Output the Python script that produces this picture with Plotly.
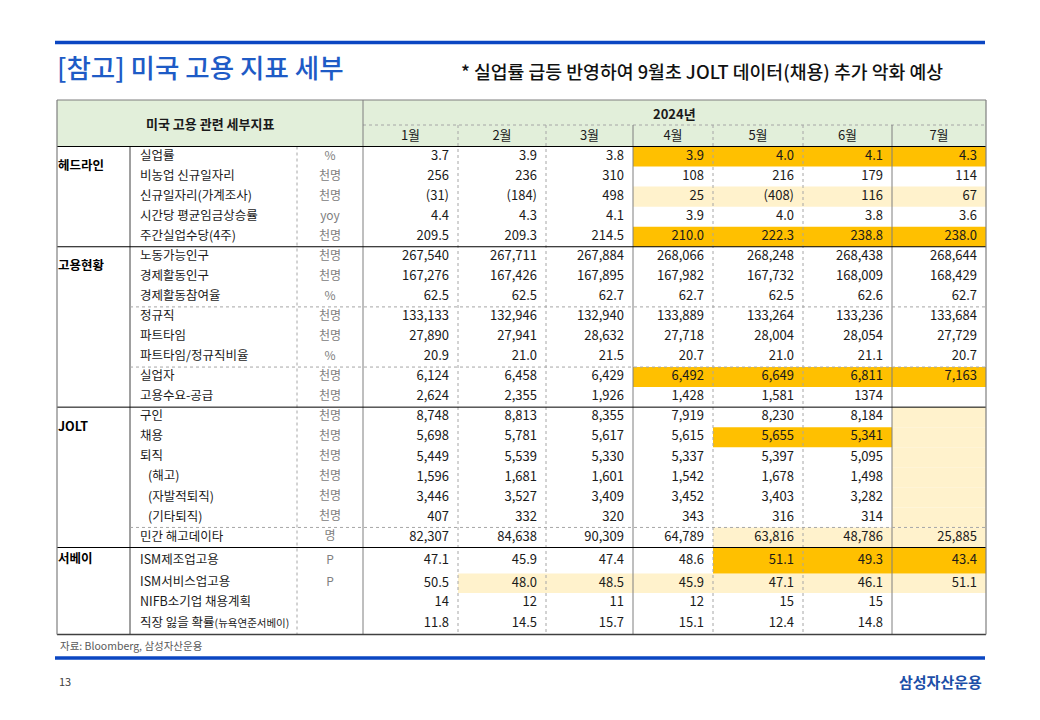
import plotly.graph_objects as go

# ---- data ----
title = "[참고] 미국 고용 지표 세부"
subtitle = "* 실업률 급등 반영하여 9월초 JOLT 데이터(채용) 추가 악화 예상"
header_left = "미국 고용 관련 세부지표"
year_label = "2024년"
months = ["1월", "2월", "3월", "4월", "5월", "6월", "7월"]

sections = ["헤드라인", "고용현황", "JOLT", "서베이"]
section_sizes = [5, 8, 7, 4]

indicators = [
    "실업률", "비농업 신규일자리", "신규일자리(가계조사)", "시간당 평균임금상승률", "주간실업수당(4주)",
    "노동가능인구", "경제활동인구", "경제활동참여율", "정규직", "파트타임", "파트타임/정규직비율",
    "실업자", "고용수요-공급",
    "구인", "채용", "퇴직", "(해고)", "(자발적퇴직)", "(기타퇴직)", "민간 해고데이타",
    "ISM제조업고용", "ISM서비스업고용", "NIFB소기업 채용계획",
    "직장 잃을 확률<span style='font-size:10.5px'>(뉴욕연준서베이)</span>",
]
units = [
    "%", "천명", "천명", "yoy", "천명",
    "천명", "천명", "%", "천명", "천명", "%", "천명", "천명",
    "천명", "천명", "천명", "천명", "천명", "천명", "명",
    "P", "P", "", "",
]

jan = ["3.7", "256", "(31)", "4.4", "209.5", "267,540", "167,276", "62.5", "133,133", "27,890", "20.9",
       "6,124", "2,624", "8,748", "5,698", "5,449", "1,596", "3,446", "407", "82,307",
       "47.1", "50.5", "14", "11.8"]
feb = ["3.9", "236", "(184)", "4.3", "209.3", "267,711", "167,426", "62.5", "132,946", "27,941", "21.0",
       "6,458", "2,355", "8,813", "5,781", "5,539", "1,681", "3,527", "332", "84,638",
       "45.9", "48.0", "12", "14.5"]
mar = ["3.8", "310", "498", "4.1", "214.5", "267,884", "167,895", "62.7", "132,940", "28,632", "21.5",
       "6,429", "1,926", "8,355", "5,617", "5,330", "1,601", "3,409", "320", "90,309",
       "47.4", "48.5", "11", "15.7"]
apr = ["3.9", "108", "25", "3.9", "210.0", "268,066", "167,982", "62.7", "133,889", "27,718", "20.7",
       "6,492", "1,428", "7,919", "5,615", "5,337", "1,542", "3,452", "343", "64,789",
       "48.6", "45.9", "12", "15.1"]
may = ["4.0", "216", "(408)", "4.0", "222.3", "268,248", "167,732", "62.5", "133,264", "28,004", "21.0",
       "6,649", "1,581", "8,230", "5,655", "5,397", "1,678", "3,403", "316", "63,816",
       "51.1", "47.1", "15", "12.4"]
jun = ["4.1", "179", "116", "3.8", "238.8", "268,438", "168,009", "62.6", "133,236", "28,054", "21.1",
       "6,811", "1374", "8,184", "5,341", "5,095", "1,498", "3,282", "314", "48,786",
       "49.3", "46.1", "15", "14.8"]
jul = ["4.3", "114", "67", "3.6", "238.0", "268,644", "168,429", "62.7", "133,684", "27,729", "20.7",
       "7,163", "", "", "", "", "", "", "", "25,885",
       "43.4", "51.1", "", ""]
columns = [jan, feb, mar, apr, may, jun, jul]

# highlighted cells: row index -> month indices
strong_cells = {0: [3, 4, 5, 6], 4: [3, 4, 5, 6], 11: [3, 4, 5, 6], 14: [4, 5], 20: [4, 5, 6]}
soft_cells = {2: [3, 4, 5, 6], 13: [6], 14: [6], 15: [6], 16: [6], 17: [6], 18: [6],
              19: [4, 5, 6], 21: [1, 2, 3, 4, 5, 6]}

source = "자료: Bloomberg, 삼성자산운용"
page_no = "13"
brand = "삼성자산운용"

# ---- layout geometry ----
FONT = "Noto Sans CJK KR"
BLUE = "#0B46C2"
STRONG = "#FFC000"
SOFT = "#FFF2CC"
GREEN = "#E2EFDA"

x_left, x_sec, x_name, x_unit = 57, 130, 297, 363
col_edges = [363, 458, 546, 633, 713, 803, 892, 986]
x_right = col_edges[-1]
y_top, y_mid, y_head = 100, 125, 146.5
row_h = [20.05] * 20 + [26, 19.5, 20, 21.5]
row_top = [y_head]
for h in row_h:
    row_top.append(row_top[-1] + h)
y_bottom = row_top[-1]
row_mid = [(row_top[i] + row_top[i + 1]) / 2 for i in range(len(row_h))]

# page body margin offset
PAD = 8

fig = go.Figure()
shapes = []


def line(x0, y0, x1, y1, color="#000000", dash="solid", width=1):
    shapes.append(dict(type="line", xref="x", yref="y", x0=x0, y0=y0, x1=x1, y1=y1,
                       layer="below", line=dict(color=color, width=width, dash=dash)))


def rect(x0, y0, x1, y1, color):
    shapes.append(dict(type="rect", xref="x", yref="y", x0=x0, y0=y0, x1=x1, y1=y1,
                       layer="below", line=dict(width=0), fillcolor=color))


# fills
rect(x_left, y_top, x_right, y_head, GREEN)
for cells, color in [(soft_cells, SOFT), (strong_cells, STRONG)]:
    for r, cols in cells.items():
        for c in cols:
            rect(col_edges[c], row_top[r], col_edges[c + 1], row_top[r + 1], color)

# blue rules
line(55, 42.5, 985, 42.5, BLUE, width=3.5)
line(55, 658, 985, 658, BLUE, width=3.5)

# grid
DOT = "#A6A6A6"
GREY = "#7F7F7F"
line(x_unit, y_mid, x_right, y_mid, DOT, "dot")
for i, x in enumerate(col_edges[1:-1], start=1):
    if i in (3, 6):
        line(x, y_mid, x, y_bottom, GREY)
    else:
        line(x, y_mid, x, y_bottom, DOT, "dot")
line(x_name, y_head, x_name, y_bottom, DOT, "dot")
line(x_sec, y_head, x_sec, y_bottom, "#404040")
line(x_unit, y_top, x_unit, y_bottom, GREY)

# sub-group dotted rules
for r in [8, 11, 19]:
    line(x_sec, row_top[r], x_right, row_top[r], DOT, "dot")

# section rules
start = 0
sec_starts = []
for n in section_sizes:
    sec_starts.append(start)
    line(x_left, row_top[start], x_right, row_top[start], "#000000")
    start += n
line(x_left, y_bottom, x_right, y_bottom, "#404040", width=1.5)

# outer border
line(x_left, y_top, x_right, y_top, GREY, width=1.2)
line(x_left, y_top, x_left, y_bottom, GREY, width=1.2)
line(x_right, y_top, x_right, y_bottom, GREY, width=1.2)

# ---- text ----
TXT = "#1A1A1A"

for c, vals in enumerate(columns):
    fig.add_trace(go.Scatter(
        x=[col_edges[c + 1] - 9] * len(vals), y=row_mid, mode="text", text=vals,
        textposition="middle left", textfont=dict(family=FONT, size=13, color=TXT),
        hoverinfo="skip", showlegend=False))

name_x = [x_name - 157 + (8 if n.startswith("(") else 0) for n in indicators]
fig.add_trace(go.Scatter(
    x=name_x, y=row_mid, mode="text", text=indicators, textposition="middle right",
    textfont=dict(family=FONT, size=12.5, color=TXT), hoverinfo="skip", showlegend=False))

fig.add_trace(go.Scatter(
    x=[(x_name + x_unit) / 2] * len(units), y=row_mid, mode="text", text=units,
    textposition="middle center", textfont=dict(family=FONT, size=12, color="#808080"),
    hoverinfo="skip", showlegend=False))

sec_offsets = [20.5, 20, 20.5, 12]
fig.add_trace(go.Scatter(
    x=[x_left + 1] * len(sections),
    y=[row_top[s] + o for s, o in zip(sec_starts, sec_offsets)],
    mode="text", text=["<b>%s</b>" % s for s in sections], textposition="middle right",
    textfont=dict(family=FONT, size=12.5, color="#000000"), hoverinfo="skip", showlegend=False))

fig.add_trace(go.Scatter(
    x=[(col_edges[i] + col_edges[i + 1]) / 2 for i in range(len(months))],
    y=[(y_mid + y_head) / 2 + 1] * len(months), mode="text", text=months,
    textposition="middle center", textfont=dict(family=FONT, size=13, color=TXT),
    hoverinfo="skip", showlegend=False))

annotations = [
    dict(x=(x_unit + x_right) / 2, y=(y_top + y_mid) / 2 + 1, text="<b>%s</b>" % year_label,
         font=dict(family=FONT, size=13, color=TXT)),
    dict(x=(x_left + x_unit) / 2, y=(y_top + y_head) / 2, text="<b>%s</b>" % header_left,
         font=dict(family=FONT, size=13, color=TXT)),
    dict(x=55, y=66, text=title, xanchor="left", font=dict(family=FONT, size=26.5, color="#1E5BC6", weight=500)),
    dict(x=459, y=71, text=subtitle, xanchor="left", font=dict(family=FONT, size=18.3, color="#111111", weight=500)),
    dict(x=58, y=645, text=source, xanchor="left", font=dict(family=FONT, size=10.5, color="#595959")),
    dict(x=57, y=681, text=page_no, xanchor="left", font=dict(family=FONT, size=11, color="#404040")),
    dict(x=984, y=681, text="<b>%s</b>" % brand, xanchor="right", font=dict(family=FONT, size=15, color="#1D4FA8")),
]
for a in annotations:
    a.update(xref="x", yref="y", showarrow=False)
    a.setdefault("xanchor", "center")
    a["yanchor"] = "middle"

fig.update_layout(
    width=1040, height=720, margin=dict(l=0, r=0, t=0, b=0),
    paper_bgcolor="white", plot_bgcolor="white",
    xaxis=dict(range=[PAD, 1040 + PAD], visible=False, fixedrange=True),
    yaxis=dict(range=[720 + PAD, PAD], visible=False, fixedrange=True),
    shapes=shapes, annotations=annotations, showlegend=False,
)

fig.write_html("out.html")
